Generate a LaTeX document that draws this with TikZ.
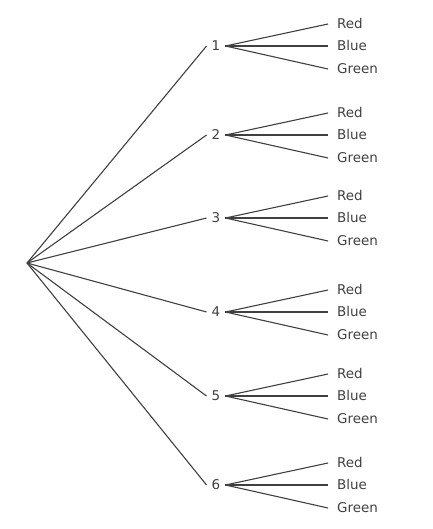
\documentclass[tikz,border=0pt]{standalone}
\usepackage{xcolor}
\usepackage{fontspec}
\setmainfont{DejaVu Sans}
\usepackage{tikz}
\definecolor{inkgray}{RGB}{64,64,64}

\begin{document}
\begin{tikzpicture}[x=1bp, y=-1bp,
    every node/.style={font=\fontsize{13.5}{16}\selectfont, text=inkgray, text height=9.8bp, text depth=0pt},
    branch/.style={draw=inkgray, line width=1.1bp}]
        \useasboundingbox (0,0) rectangle (432,529);

        % Root
        \coordinate (root) at (27,263);

        % Numbers
        \foreach \n/\y in {1/46, 2/135, 3/218, 4/312, 5/396, 6/485} {
            \node[inner sep=5bp] (num\n) at (216,\y) {\n};
            \draw[branch] (root) -- (num\n.west);

            % Colours
            \node[anchor=west, inner xsep=9bp] (red\n) at (328,\y-22) {Red};
            \node[anchor=west, inner xsep=9bp] (blue\n) at (328,\y) {Blue};
            \node[anchor=west, inner xsep=9bp] (green\n) at (328,\y+23) {Green};
            \draw[branch] (num\n.east) -- (red\n.west);
            \draw[branch] (num\n.east) -- (blue\n.west);
            \draw[branch] (num\n.east) -- (green\n.west);
        }
    \end{tikzpicture}
\end{document}
